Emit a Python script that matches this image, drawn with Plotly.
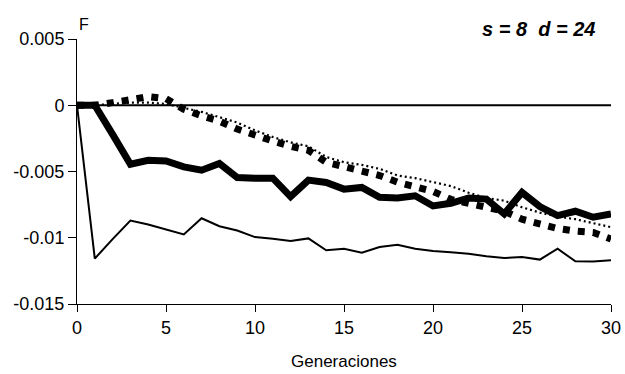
import plotly.graph_objects as go

generations = list(range(31))

thin_solid = [0, -0.01157, -0.0101, -0.0087, -0.0090, -0.0094, -0.00975, -0.00853, -0.00913, -0.00945,
              -0.00995, -0.01008, -0.01025, -0.01005, -0.01095, -0.01083, -0.01113, -0.0107, -0.01053, -0.01083,
              -0.0110, -0.0111, -0.0112, -0.0114, -0.01153, -0.01145, -0.01165, -0.01083, -0.01178, -0.0118, -0.0117]

thick_solid = [0, 0, -0.0022, -0.00445, -0.00415, -0.0042, -0.00465, -0.0049, -0.0044, -0.00545,
               -0.0055, -0.0055, -0.0069, -0.00565, -0.00583, -0.00633, -0.0062, -0.00695, -0.0070, -0.00683,
               -0.0076, -0.0074, -0.0070, -0.00708, -0.0082, -0.00658, -0.00765, -0.00833, -0.0080, -0.00845, -0.0082]

thick_dashed = [0, 0, 0.0002, 0.0004, 0.00065, 0.0005, -0.0003, -0.0008, -0.0012, -0.0018,
                -0.0023, -0.0027, -0.0031, -0.0034, -0.0043, -0.0046, -0.0049, -0.0053, -0.0058, -0.0061,
                -0.0065, -0.0071, -0.0074, -0.0077, -0.0080, -0.0086, -0.0090, -0.0093, -0.0095, -0.0096, -0.0101]

thin_dotted = [0, 0, 0.0001, 0.0002, 0.0002, 0.0001, -0.0002, -0.0005, -0.0009, -0.0013,
               -0.0019, -0.0024, -0.0028, -0.0031, -0.0039, -0.0043, -0.0045, -0.0048, -0.0053, -0.0055,
               -0.0058, -0.0061, -0.0066, -0.0070, -0.0072, -0.0077, -0.0081, -0.0084, -0.0086, -0.0089, -0.0092]

x_ticks = [0, 5, 10, 15, 20, 25, 30]
y_ticks = [0.005, 0, -0.005, -0.01, -0.015]
y_tick_labels = ["0.005", "0", "-0.005", "-0.01", "-0.015"]

fig = go.Figure()
fig.add_trace(go.Scatter(x=[0, 30], y=[0, 0], mode="lines",
                         line=dict(color="black", width=1.8), hoverinfo="skip"))
fig.add_trace(go.Scatter(x=generations, y=thin_solid, mode="lines",
                         line=dict(color="black", width=2)))
fig.add_trace(go.Scatter(x=generations, y=thin_dotted, mode="lines",
                         line=dict(color="black", width=2.2, dash="2px,3px")))
fig.add_trace(go.Scatter(x=generations, y=thick_dashed, mode="lines",
                         line=dict(color="black", width=7, dash="7px,8px")))
fig.add_trace(go.Scatter(x=generations, y=thick_solid, mode="lines",
                         line=dict(color="black", width=7)))

font = "Liberation Sans, Arial, sans-serif"
fig.update_layout(
    width=625, height=374,
    margin=dict(l=77, r=14, t=39, b=70),
    paper_bgcolor="white", plot_bgcolor="white",
    showlegend=False,
    font=dict(family=font, size=17, color="black"),
    xaxis=dict(range=[0, 30], tickvals=x_ticks, showgrid=False, zeroline=False,
               showline=True, linecolor="black", linewidth=1, automargin=False,
               ticks="outside", ticklen=7, tickcolor="black",
               tickfont=dict(size=18)),
    yaxis=dict(range=[-0.015, 0.005], tickvals=y_ticks, ticktext=y_tick_labels,
               showgrid=False, zeroline=False, automargin=False,
               showline=True, linecolor="black", linewidth=1,
               ticks="outside", ticklen=8, tickcolor="black",
               tickfont=dict(size=18)),
    annotations=[
        dict(text="F", xref="paper", yref="paper", x=0.0, y=1.0, xanchor="left", yanchor="bottom",
             xshift=0, yshift=4, showarrow=False, font=dict(size=16)),
        dict(text="<b><i>s = 8 &nbsp;d = 24</i></b>", xref="paper", yref="paper", x=0.9735, y=1.0,
             xanchor="right", yanchor="middle", yshift=10, showarrow=False, font=dict(size=20)),
        dict(text="Generaciones", xref="paper", yref="paper", x=0.5, y=0, xanchor="center",
             yanchor="middle", yshift=-57, showarrow=False, font=dict(size=17)),
    ],
)

fig.write_html("out.html", config={"displayModeBar": False},
               post_script="document.body.style.margin='0';")
